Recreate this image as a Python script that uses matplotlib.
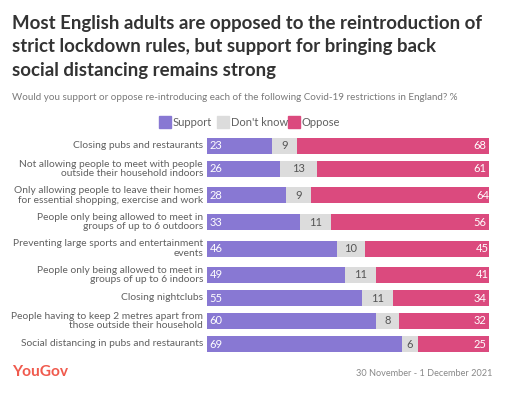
import numpy as np
import matplotlib
matplotlib.use("Agg")
import matplotlib.pyplot as plt
from matplotlib.patches import Rectangle

# survey data (top to bottom)
labels = [
    "Closing pubs and restaurants",
    "Not allowing people to meet with people\noutside their household indoors",
    "Only allowing people to leave their homes\nfor essential shopping, exercise and work",
    "People only being allowed to meet in\ngroups of up to 6 outdoors",
    "Preventing large sports and entertainment\nevents",
    "People only being allowed to meet in\ngroups of up to 6 indoors",
    "Closing nightclubs",
    "People having to keep 2 metres apart from\nthose outside their household",
    "Social distancing in pubs and restaurants",
]
support = [23, 26, 28, 33, 46, 49, 55, 60, 69]
dont_know = [9, 13, 9, 11, 10, 11, 11, 8, 6]
oppose = [68, 61, 64, 56, 45, 41, 34, 32, 25]

series_names = ["Support", "Don't know", "Oppose"]
colors = ["#8878d3", "#dcdcdc", "#db4a7e"]

plt.rcParams['font.family'] = ['Lato', 'DejaVu Sans']

W, H = 507, 396
fig = plt.figure(figsize=(W / 100, H / 100), dpi=100)

# row positions in pixels, taller rows for two-line labels
heights = [26 if "\n" in l else 19 for l in labels]
centers = []
y = 146
for i, h in enumerate(heights):
    if i > 0:
        y += heights[i - 1] / 2 + h / 2 + 0.5
    centers.append(y)
centers = np.array(centers)

top_px, bot_px = 135, 352
x0_px, x1_px = 207, 489
ax = fig.add_axes([x0_px / W, 1 - bot_px / H, (x1_px - x0_px) / W, (bot_px - top_px) / H])
ax.set_xlim(0, 100)
ax.set_ylim(bot_px, top_px)
ax.axis("off")

bar_h = 16
left = np.zeros(len(labels))
for vals, c in zip([support, dont_know, oppose], colors):
    ax.barh(centers, vals, left=left, height=bar_h, color=c, linewidth=0)
    left = left + np.array(vals)

for i, yc in enumerate(centers):
    ax.text(1, yc, str(support[i]), color="white", fontsize=8, va="center", ha="left")
    mid = support[i] + dont_know[i] / 2
    ax.text(mid, yc, str(dont_know[i]), color="#555555", fontsize=8, va="center", ha="center")
    end = support[i] + dont_know[i] + oppose[i]
    ax.text(end - 1, yc, str(oppose[i]), color="white", fontsize=8, va="center", ha="right")
    ax.text(-1.4, yc, labels[i], color="#606060", fontsize=7.4, va="center", ha="right",
            linespacing=1.05)

# titles
fig.text(12 / W, 1 - 15 / H,
         "Most English adults are opposed to the reintroduction of\n"
         "strict lockdown rules, but support for bringing back\n"
         "social distancing remains strong",
         fontsize=13.4, fontweight="bold", color="#333333", va="top", ha="left", linespacing=1.45)
fig.text(12 / W, 1 - 97 / H,
         "Would you support or oppose re-introducing each of the following Covid-19 restrictions in England? %",
         fontsize=7.15, color="#7a7a7a", va="center", ha="left")

# legend
leg_x = [159, 217, 288]
for name, c, lx in zip(series_names, colors, leg_x):
    fig.patches.append(Rectangle((lx / W, 1 - 128 / H), 12 / W, 12 / H, color=c,
                                 transform=fig.transFigure))
    fig.text((lx + 14) / W, 1 - 122 / H, name, fontsize=8, color="#606060",
             va="center", ha="left")

# footer
fig.text(12 / W, 1 - 372 / H, "YouGov", fontsize=11.2, fontweight="bold", color="#f05a4d",
         va="center", ha="left")
fig.text(492 / W, 1 - 373 / H, "30 November - 1 December 2021", fontsize=6.6, color="#888888",
         va="center", ha="right")

fig.savefig("out.png", dpi=100)
